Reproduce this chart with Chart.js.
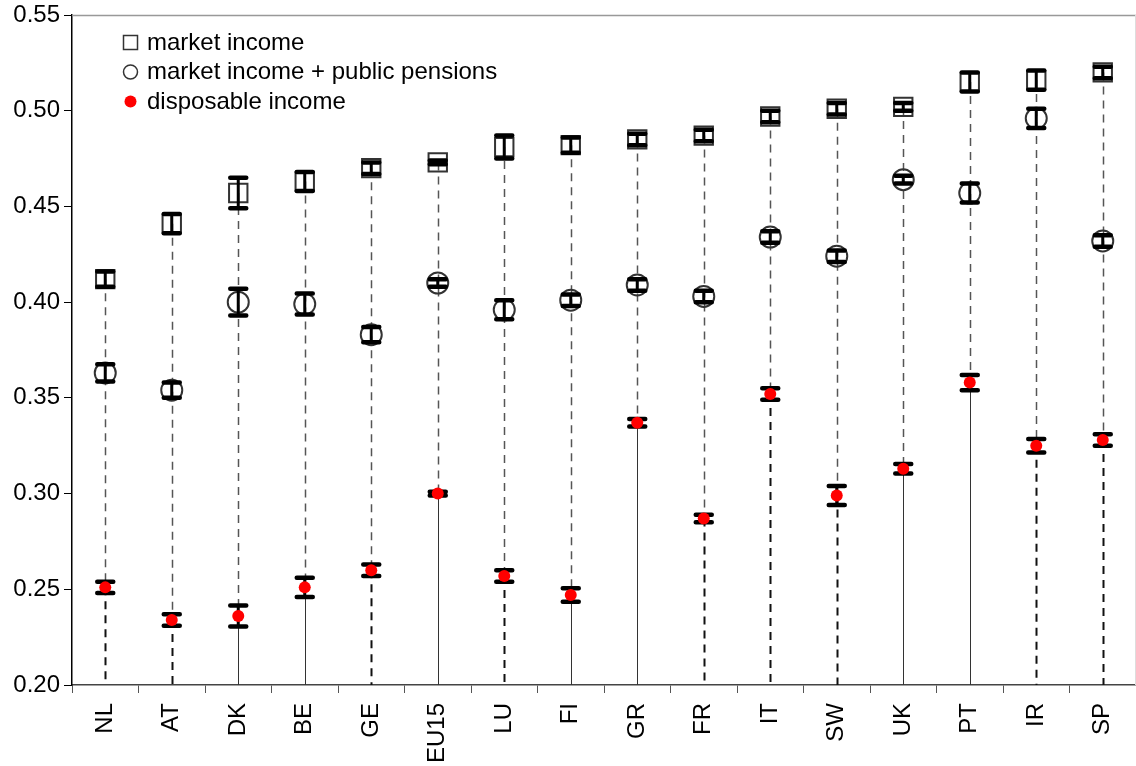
<!DOCTYPE html>
<html>
<head>
<meta charset="utf-8">
<title>Gini coefficients by income concept</title>
<script src="https://cdn.jsdelivr.net/npm/chart.js@4"></script>
<style>
    html, body { margin: 0; padding: 0; background: #fff; overflow: hidden; }
    #wrap { width: 1136px; height: 766px; position: relative; }
    canvas { display: block; }
</style>
</head>
<body>
<div id="wrap"><canvas id="chartCanvas"></canvas></div>
<script>
// 国家
const countries = ['NL', 'AT', 'DK', 'BE', 'GE', 'EU15', 'LU', 'FI', 'GR', 'FR', 'IT', 'SW', 'UK', 'PT', 'IR', 'SP'];

// market income
const marketIncome = [0.412, 0.441, 0.457, 0.463, 0.470, 0.473, 0.481, 0.482, 0.485, 0.487, 0.497, 0.501, 0.502, 0.515, 0.516, 0.520];
const marketErr    = [0.004, 0.005, 0.008, 0.005, 0.003, 0.001, 0.006, 0.004, 0.003, 0.003, 0.003, 0.003, 0.002, 0.005, 0.005, 0.003];

// market income + public pensions
const withPensions = [0.363, 0.354, 0.400, 0.399, 0.383, 0.410, 0.396, 0.401, 0.409, 0.403, 0.434, 0.424, 0.464, 0.457, 0.496, 0.432];
const pensionsErr  = [0.0045, 0.004, 0.007, 0.0055, 0.004, 0.002, 0.005, 0.003, 0.003, 0.003, 0.003, 0.003, 0.002, 0.005, 0.005, 0.003];

// disposable income
const disposable    = [0.251, 0.234, 0.236, 0.251, 0.260, 0.300, 0.257, 0.247, 0.337, 0.287, 0.352, 0.299, 0.313, 0.358, 0.325, 0.328];
const disposableErr = [0.003, 0.003, 0.0055, 0.005, 0.003, 0.001, 0.003, 0.0035, 0.002, 0.002, 0.003, 0.005, 0.0025, 0.004, 0.0035, 0.003];

// y 轴刻度
const yTicks = [0.20, 0.25, 0.30, 0.35, 0.40, 0.45, 0.50, 0.55];

// 下半段连线是否为实线
const lowerSolid = [false, false, true, true, false, true, false, true, true, false, false, false, true, true, false, false];

const FONT = 'Liberation Sans, Arial, sans-serif';

// 误差棒
const errorBars = {
    id: 'errorBars',
    draw(chart, index) {
        const ds = chart.data.datasets[index];
        if (!ds.err) return;
        const ctx = chart.ctx;
        const x = chart.scales.x;
        const y = chart.scales.y;
        ctx.save();
        ctx.strokeStyle = '#000';
        ctx.lineCap = 'round';
        ds.data.forEach((v, i) => {
            const px = x.getPixelForValue(i);
            const hi = y.getPixelForValue(v + ds.err[i]);
            const lo = y.getPixelForValue(v - ds.err[i]);
            ctx.lineWidth = 3;
            ctx.beginPath();
            ctx.moveTo(px, hi);
            ctx.lineTo(px, lo);
            ctx.stroke();
            ctx.lineWidth = 4.5;
            ctx.beginPath();
            ctx.moveTo(px - 8, hi);
            ctx.lineTo(px + 8, hi);
            ctx.moveTo(px - 8, lo);
            ctx.lineTo(px + 8, lo);
            ctx.stroke();
        });
        ctx.restore();
    },
    beforeDatasetDraw(chart, args) {
        if (args.index === 2) this.draw(chart, args.index);
    },
    afterDatasetDraw(chart, args) {
        if (args.index !== 2) this.draw(chart, args.index);
    }
};

// 垂直连线
const dropLines = {
    id: 'dropLines',
    beforeDatasetsDraw(chart) {
        const ctx = chart.ctx;
        const x = chart.scales.x;
        const y = chart.scales.y;
        const base = y.getPixelForValue(0.20);
        ctx.save();
        countries.forEach((_, i) => {
            const px = Math.round(x.getPixelForValue(i)) + 0.5;
            const top = y.getPixelForValue(marketIncome[i]);
            const mid = y.getPixelForValue(disposable[i]);
            ctx.strokeStyle = '#555';
            ctx.lineWidth = 1.5;
            ctx.setLineDash([8, 6]);
            ctx.beginPath();
            ctx.moveTo(px, top);
            ctx.lineTo(px, mid);
            ctx.stroke();
            if (lowerSolid[i]) {
                ctx.setLineDash([]);
                ctx.strokeStyle = '#333';
                ctx.lineWidth = 1;
            } else {
                ctx.strokeStyle = '#111';
                ctx.lineWidth = 2;
            }
            ctx.beginPath();
            ctx.moveTo(px, mid);
            ctx.lineTo(px, base);
            ctx.stroke();
        });
        ctx.restore();
    }
};

// 边框 + 图例
const frameAndLegend = {
    id: 'frameAndLegend',
    afterDraw(chart) {
        const ctx = chart.ctx;
        const a = chart.chartArea;
        ctx.save();
        ctx.strokeStyle = '#999';
        ctx.lineWidth = 1.5;
        ctx.beginPath();
        ctx.moveTo(a.left, a.top + 0.5);
        ctx.lineTo(a.right, a.top + 0.5);
        ctx.stroke();
        ctx.strokeStyle = '#ddd';
        ctx.lineWidth = 1;
        ctx.beginPath();
        ctx.moveTo(a.right - 0.5, a.top);
        ctx.lineTo(a.right - 0.5, a.bottom);
        ctx.stroke();

        const rows = [49.5, 79, 108.5];
        ctx.font = '24px ' + FONT;
        ctx.fillStyle = '#000';
        ctx.textBaseline = 'alphabetic';
        chart.data.datasets.forEach((ds, i) => {
            const by = rows[i];
            const cy = by - 7;
            ctx.strokeStyle = '#333';
            ctx.lineWidth = 1.5;
            if (i === 0) {
                ctx.strokeRect(123.5, cy - 7, 14, 14);
            } else if (i === 1) {
                ctx.beginPath();
                ctx.arc(130.5, cy, 7, 0, Math.PI * 2);
                ctx.stroke();
            } else {
                ctx.fillStyle = '#ff0000';
                ctx.beginPath();
                ctx.arc(130.5, cy, 6, 0, Math.PI * 2);
                ctx.fill();
                ctx.fillStyle = '#000';
            }
            ctx.fillText(ds.label, 147, by);
        });
        ctx.restore();
    }
};

const ctx = document.getElementById('chartCanvas').getContext('2d');
new Chart(ctx, {
    type: 'line',
    data: {
        labels: countries,
        datasets: [{
            label: 'market income',
            data: marketIncome,
            err: marketErr,
            showLine: false,
            pointStyle: 'rect',
            pointRadius: 13,
            pointBorderWidth: 2,
            pointBorderColor: '#333',
            pointBackgroundColor: 'rgba(255,255,255,0)',
            order: 2
        }, {
            label: 'market income + public pensions',
            data: withPensions,
            err: pensionsErr,
            showLine: false,
            pointStyle: 'circle',
            pointRadius: 10.5,
            pointBorderWidth: 2,
            pointBorderColor: '#333',
            pointBackgroundColor: 'rgba(255,255,255,0)',
            order: 1
        }, {
            label: 'disposable income',
            data: disposable,
            err: disposableErr,
            showLine: false,
            pointStyle: 'circle',
            pointRadius: 6,
            pointBorderWidth: 0,
            pointBackgroundColor: '#ff0000',
            order: 0
        }]
    },
    options: {
        responsive: true,
        maintainAspectRatio: false,
        animation: false,
        layout: {
            autoPadding: false,
            padding: { top: 15, right: 0, left: 0, bottom: 0 }
        },
        plugins: {
            legend: { display: false },
            tooltip: { enabled: false }
        },
        scales: {
            x: {
                type: 'category',
                offset: true,
                grid: {
                    offset: true,
                    drawOnChartArea: false,
                    drawTicks: true,
                    tickLength: 8,
                    color: '#555'
                },
                border: { color: '#444', width: 1.5 },
                ticks: {
                    color: '#000',
                    font: { family: FONT, size: 24 },
                    minRotation: 90,
                    maxRotation: 90,
                    padding: 10,
                    autoSkip: false
                },
                afterFit(scale) {
                    scale.height = 81;
                    scale.paddingLeft = 0;
                    scale.paddingRight = 0;
                }
            },
            y: {
                min: 0.20,
                max: 0.55,
                afterBuildTicks(scale) {
                    scale.ticks = yTicks.map(v => ({ value: v }));
                },
                grid: {
                    drawOnChartArea: false,
                    drawTicks: true,
                    tickLength: 8,
                    color: '#000'
                },
                border: { color: '#000', width: 1.5 },
                ticks: {
                    color: '#000',
                    font: { family: FONT, size: 24 },
                    padding: 4,
                    callback: v => Number(v).toFixed(2)
                },
                afterFit(scale) {
                    scale.width = 72;
                    scale.paddingTop = 0;
                    scale.paddingBottom = 0;
                }
            }
        }
    },
    plugins: [dropLines, errorBars, frameAndLegend]
});
</script>
</body>
</html>
